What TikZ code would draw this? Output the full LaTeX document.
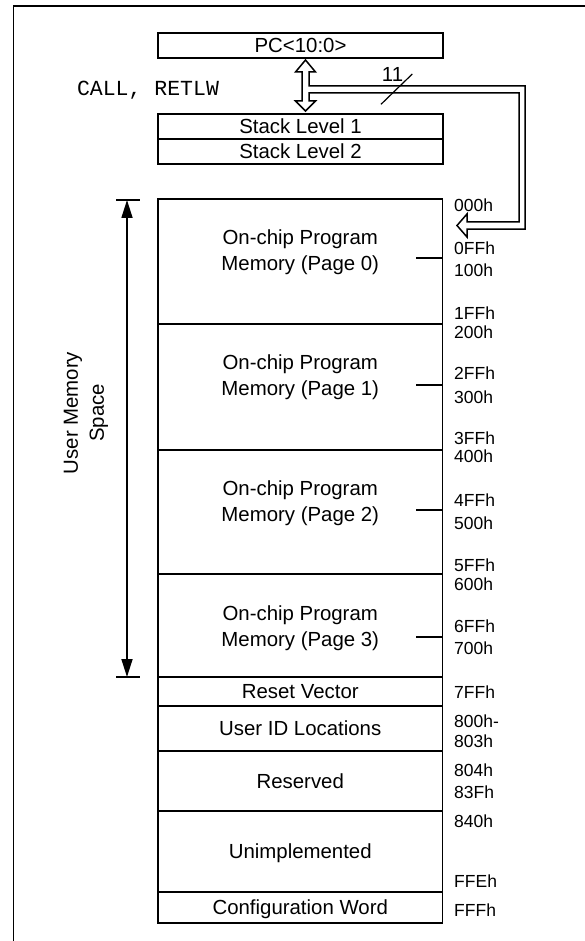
\documentclass[tikz,border=0pt]{standalone}
\usepackage{fontspec}
\setmainfont{Liberation Sans}
\setmonofont{Liberation Mono}
\usetikzlibrary{arrows.meta,calc}

\newcommand\bigsz{\fontsize{20.4pt}{26pt}\selectfont}
\newcommand\addrsz{\fontsize{17.5pt}{20pt}\selectfont}

\tikzset{
  blk/.style={draw, line width=1.7pt, inner sep=0pt, outer sep=0pt,
    minimum width=284.5pt, font=\bigsz, text height=14.6pt, text depth=0pt},
  twoline/.style={font=\bigsz, align=center, inner sep=0pt},
  addr/.style={anchor=west, font=\addrsz, inner sep=0pt},
  tick/.style={line width=1.7pt},
  hollowbus/.style={line width=1.5pt, fill=white, line join=miter},
}

\begin{document}
\begin{tikzpicture}[x=1pt,y=-1pt]
\useasboundingbox (0,0) rectangle (585,941);

% outer frame (top and left edges)
\draw[line width=1.8pt] (13.4,960) |- (600,6.3);

% program counter and stack
\node[blk, minimum height=25pt] (pc) at (300.5,45.5) {PC<10:0>};
\node[blk, minimum height=25pt] (s1) at (300.5,126.5) {Stack Level 1};
\node[blk, minimum height=25pt] (s2) at (300.5,151.5) {Stack Level 2};
\node[font=\ttfamily\fontsize{21.5pt}{24pt}\selectfont, inner sep=0pt] (callret) at (148,90) {CALL, RETLW};

% memory map blocks
\node[blk, minimum height=125pt] (pg0) at (300.25,261.5) {};
\node[blk, minimum height=126pt] (pg1) at (300.25,387) {};
\node[blk, minimum height=124.3pt] (pg2) at (300.25,512.15) {};
\node[blk, minimum height=103pt] (pg3) at (300.25,625.8) {};
\node[blk, minimum height=29pt] (rv) at (300.25,691.5) {Reset Vector};
\node[blk, minimum height=45pt] (uid) at (300.25,728.5) {User ID Locations};
\node[blk, minimum height=60pt] (rsv) at (300.25,781) {Reserved};
\node[blk, minimum height=81pt] (uni) at (300.25,851.5) {Unimplemented};
\node[blk, minimum height=31pt] (cfg) at (300.25,907.5) {Configuration Word};

\node[twoline] (pg0t) at (300.25,252) {On-chip Program\\Memory (Page 0)};
\node[twoline] (pg1t) at (300.25,377.5) {On-chip Program\\Memory (Page 1)};
\node[twoline] (pg2t) at (300.25,503.5) {On-chip Program\\Memory (Page 2)};
\node[twoline] (pg3t) at (300.25,628.5) {On-chip Program\\Memory (Page 3)};

% page-boundary ticks on the right edge
\draw[tick] ($(pg0.east)+(0,-3.8)$) -- ++(-27,0);
\draw[tick] ($(pg1.east)+(0,-2.3)$) -- ++(-27,0);
\draw[tick] ($(pg2.east)+(0,-2.1)$) -- ++(-27,0);
\draw[tick] ($(pg3.east)+(0,10.9)$) -- ++(-27,0);

% addresses
\foreach \t/\y [count=\i] in {000h/205,0FFh/248,100h/270,1FFh/312.7,200h/332,
  2FFh/373,300h/397,3FFh/438,400h/456.7,4FFh/500,500h/523,5FFh/565,600h/584,
  6FFh/626,700h/648,7FFh/691.7,800h-/721,803h/741.7,804h/770,83Fh/792.7,
  840h/821.7,FFEh/880.7,FFFh/910}
  \node[addr] (ad\i) at (454,\y) {\t};

% user memory span
\coordinate (spanTop) at (127,200);
\coordinate (spanBot) at (127,677);
\draw[tick] ($(spanTop)+(-11,0)$) -- ++(24,0);
\draw[tick] ($(spanBot)+(-11,0)$) -- ++(24,0);
\draw[line width=1.7pt, {Triangle[length=18pt,width=11pt]}-{Triangle[length=18pt,width=11pt]}]
  (spanTop) -- (spanBot);
\node[twoline, rotate=90] (ums) at (86,413) {User Memory\\Space};

% bidirectional PC/stack arrow joined to the 11-bit bus into program memory
\coordinate (tipU) at ($(pc.south)+(5,2)$);
\draw[hollowbus] (tipU) -- ++(10,12) -- ++(-6.5,0) -- ++(0,14)
  -- (525,86) -- (525,229) -- (467,229) -- (467,237) -- (457,225.5)
  -- (467,214) -- (467,222) -- (519,222) -- (519,93) -- (309,93)
  -- (309,101) -- (315.5,101) -- (305.5,111) -- (295.5,101) -- (302,101)
  -- (302,72) -- (295.5,72) -- cycle;

% bus width marker
\draw[line width=1.2pt] (381,104.3) coordinate (slA) -- (412.3,74) coordinate (slB);
\node[font=\bigsz, inner sep=0pt] (bw) at (392.5,74.5) {11};
\end{tikzpicture}
\end{document}
